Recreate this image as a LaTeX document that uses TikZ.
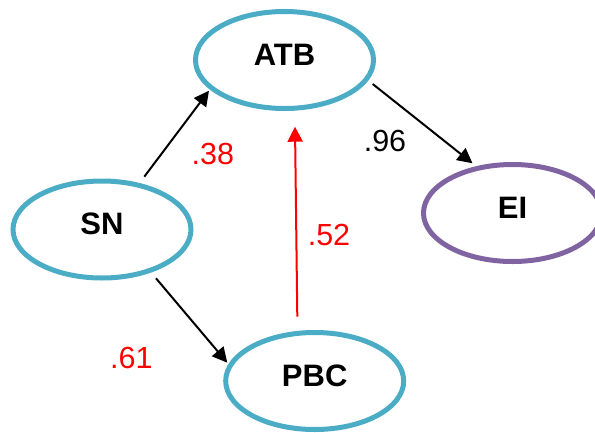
\documentclass[tikz,border=0pt]{standalone}
\usepackage{fontspec}
\setmainfont{Liberation Sans}
\usetikzlibrary{shapes.geometric,arrows.meta,calc}
\definecolor{aqua}{HTML}{4BACC6}
\definecolor{plum}{HTML}{8064A2}
\definecolor{pathred}{HTML}{FF0000}
\tikzset{
  construct/.style={ellipse, draw=aqua, line width=5pt, inner sep=0pt,
    minimum width=178pt, minimum height=97pt,
    font=\fontsize{31}{31}\selectfont\bfseries,
    text height=22pt, text depth=12pt},
  outcome/.style={construct, draw=plum},
  path arrow/.style={line width=2pt, -{Triangle[length=15pt,width=15pt]}},
  coef/.style={anchor=base, inner sep=0pt, font=\fontsize{30.5}{30.5}\selectfont}
}
\begin{document}
\begin{tikzpicture}[x=1pt,y=-1pt]
  \useasboundingbox (0,0) rectangle (595,432);

  % latent constructs
  \node[construct] (ATB) at (284.5,60) {ATB};
  \node[construct] (SN)  at (102,229.5) {SN};
  \node[outcome]   (EI)  at (512.5,213) {EI};
  \node[construct] (PBC) at (314.7,381) {PBC};

  % structural paths
  \draw[path arrow] ($(SN)+(42.3,-52.8)$) -- ($(ATB)+(-75.5,30.7)$);
  \draw[path arrow] ($(ATB)+(88.2,24)$) -- ($(EI)+(-40,-49.7)$);
  \draw[path arrow] ($(SN)+(54,48.8)$) -- ($(PBC)+(-87.4,-18.3)$);
  \draw[path arrow, draw=pathred, fill=pathred] ($(PBC)+(-17.4,-64.3)$) -- ($(ATB)+(10.5,66.7)$);

  % path coefficients
  \node[coef, text=pathred] (c38) at (212.8,164) {.38};
  \node[coef]               (c96) at (385,151.7) {.96};
  \node[coef, text=pathred] (c52) at (329,245) {.52};
  \node[coef, text=pathred] (c61) at (131.3,368.3) {.61};
\end{tikzpicture}
\end{document}
